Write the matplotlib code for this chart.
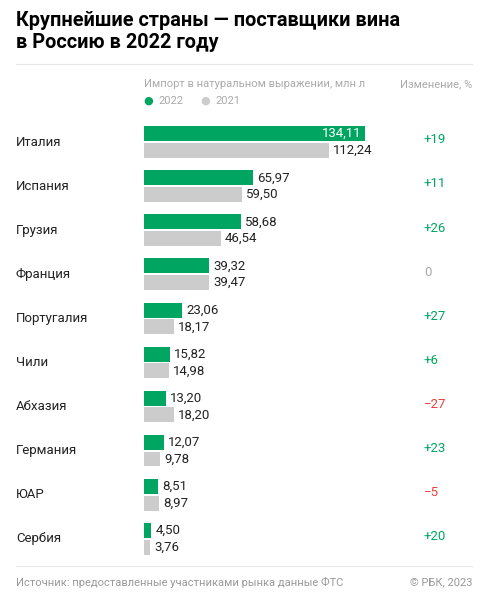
import matplotlib
matplotlib.use("Agg")
import matplotlib.pyplot as plt

plt.rcParams['font.family'] = ['Roboto', 'DejaVu Sans']

countries = ['Италия', 'Испания', 'Грузия', 'Франция', 'Португалия', 'Чили',
             'Абхазия', 'Германия', 'ЮАР', 'Сербия']
v2022 = [134.11, 65.97, 58.68, 39.32, 23.06, 15.82, 13.20, 12.07, 8.51, 4.50]
v2021 = [112.24, 59.50, 46.54, 39.47, 18.17, 14.98, 18.20, 9.78, 8.97, 3.76]
change = [19, 11, 26, 0, 27, 6, -27, 23, -5, 20]

GREEN = '#00a562'
GRAY = '#cccccc'
RED = '#e8403a'

W, H = 488, 600
fig = plt.figure(figsize=(W / 100, H / 100), dpi=100)

# axes in pixel layout: x 144..400, y 117..563
ax = fig.add_axes([144 / W, 1 - 563 / H, 256 / W, 446 / H])
xmax = 256 / 1.648
ax.set_xlim(0, xmax)
ax.set_ylim(9.55, -0.57)
ax.axis('off')

fmt = lambda v: f'{v:.2f}'.replace('.', ',')
bh = 0.34
for i, (a, b) in enumerate(zip(v2022, v2021)):
    ax.barh(i - 0.19, a, height=bh, color=GREEN)
    ax.barh(i + 0.19, b, height=bh, color=GRAY)
    if a > 100:
        ax.text(a - 2, i - 0.19, fmt(a), color='white', ha='right', va='center', fontsize=9.5)
    else:
        ax.text(a + 2.5, i - 0.19, fmt(a), color='#222222', ha='left', va='center', fontsize=9.5)
    ax.text(b + 2.5, i + 0.19, fmt(b), color='#222222', ha='left', va='center', fontsize=9.5)
    ax.text(-128 / 1.648, i, countries[i], ha='left', va='center', fontsize=9.5, color='#222222')
    c = change[i]
    col = GREEN if c > 0 else (RED if c < 0 else '#aaaaaa')
    s = f'+{c}' if c > 0 else (f'\u2212{-c}' if c < 0 else '0')
    ax.text((424 - 144) / 1.648, i - 0.05, s, ha='left', va='center', fontsize=9.5, color=col)

fig.text(16 / W, 1 - 32 / H, 'Крупнейшие страны — поставщики вина\nв Россию в 2022 году',
         ha='left', va='center', fontsize=14.3, fontweight='bold', linespacing=1.2)
fig.add_artist(plt.Line2D([16 / W, 472 / W], [1 - 64 / H] * 2, color='#e6e6e6', lw=0.8))
fig.text(144 / W, 1 - 84 / H, 'Импорт в натуральном выражении, млн л', ha='left', va='center',
         fontsize=8, color='#aaaaaa')
fig.text(472 / W, 1 - 84 / H, 'Изменение, %', ha='right', va='center', fontsize=8, color='#aaaaaa')
fig.text(148 / W, 1 - 101 / H, '●', ha='center', va='center', fontsize=8, color=GREEN)
fig.text(158 / W, 1 - 101 / H, '2022', ha='left', va='center', fontsize=8, color='#aaaaaa')
fig.text(205 / W, 1 - 101 / H, '●', ha='center', va='center', fontsize=8, color=GRAY)
fig.text(215 / W, 1 - 101 / H, '2021', ha='left', va='center', fontsize=8, color='#aaaaaa')
fig.add_artist(plt.Line2D([16 / W, 472 / W], [1 - 566 / H] * 2, color='#e6e6e6', lw=0.8))
fig.text(16 / W, 1 - 582 / H, 'Источник: предоставленные участниками рынка данные ФТС',
         ha='left', va='center', fontsize=8, color='#999999')
fig.text(472 / W, 1 - 582 / H, '© РБК, 2023', ha='right', va='center', fontsize=8, color='#999999')

fig.savefig('out.png', dpi=100)
